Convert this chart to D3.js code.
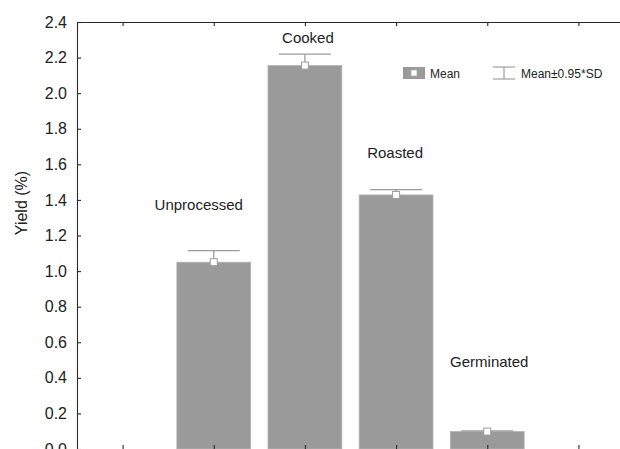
<!DOCTYPE html>
<html>
<head>
<meta charset="utf-8">
<script src="https://cdn.jsdelivr.net/npm/d3@7/dist/d3.min.js"></script>
<style>
  html, body { margin: 0; padding: 0; background: #fff; }
  svg { display: block; font-family: "Liberation Sans", Arial, sans-serif; }
</style>
</head>
<body>
<svg id="chart" width="620" height="449"></svg>
<script>
// Yield by processing method: mean bars with ±0.95*SD whiskers
const categories = ["Unprocessed", "Cooked", "Roasted", "Germinated"];
const means = [1.05, 2.155, 1.428, 0.098];
const halfSpread = [0.065, 0.064, 0.03, 0.004];
const yTicks = [0, 0.2, 0.4, 0.6, 0.8, 1.0, 1.2, 1.4, 1.6, 1.8, 2.0, 2.2, 2.4];
const slotCount = categories.length + 2; // one empty slot at each end
const legendLabels = ["Mean", "Mean\u00b10.95*SD"];

const svg = d3.select("#chart");
const plotLeft = 77, plotRight = 624, plotTop = 22, plotBottom = 449;

const x = d3.scaleLinear().domain([-0.5, slotCount - 0.5]).range([plotLeft, plotRight]);
const y = d3.scaleLinear().domain([0, 2.4]).range([plotBottom, plotTop]);
const slot = (plotRight - plotLeft) / slotCount;
const barW = slot * 0.81;
const capW = slot * 0.57;

const axisColor = "#2a2a2a";
const barColor = "#999a99";
const whiskerColor = "#9c9c9c";

// bars
svg.append("g").selectAll("rect").data(categories).join("rect")
  .attr("x", (d, i) => x(i + 1) - barW / 2)
  .attr("y", (d, i) => y(means[i]))
  .attr("width", barW)
  .attr("height", (d, i) => y(0) - y(means[i]))
  .attr("fill", barColor)
  .attr("stroke", "#b3b3b3")
  .attr("stroke-width", 0.8);

// whiskers
const wg = svg.append("g").attr("stroke", whiskerColor).attr("stroke-width", 1.3).attr("fill", "none");
categories.forEach((c, i) => {
  const cx = x(i + 1);
  const yt = y(means[i] + halfSpread[i]);
  wg.append("line").attr("x1", cx - capW / 2).attr("x2", cx + capW / 2).attr("y1", yt).attr("y2", yt);
  wg.append("line").attr("x1", cx).attr("x2", cx).attr("y1", yt).attr("y2", y(means[i]));
});

// mean markers
svg.append("g").selectAll("rect").data(categories).join("rect")
  .attr("x", (d, i) => x(i + 1) - 3.5)
  .attr("y", (d, i) => y(means[i]) - 3.5)
  .attr("width", 7).attr("height", 7)
  .attr("fill", "#fff")
  .attr("stroke", whiskerColor)
  .attr("stroke-width", 1);

// axes
const slots = d3.range(slotCount);
const topAxis = svg.append("g").attr("transform", `translate(0,${plotTop})`)
  .call(d3.axisBottom(x).tickValues(slots).tickFormat("").tickSizeInner(4).tickSizeOuter(0));
const bottomAxis = svg.append("g").attr("transform", `translate(0,${plotBottom})`)
  .call(d3.axisTop(x).tickValues(slots).tickFormat("").tickSizeInner(4).tickSizeOuter(0));
const leftAxis = svg.append("g").attr("transform", `translate(${plotLeft},0)`)
  .call(d3.axisLeft(y).tickValues(yTicks).tickFormat(d3.format(".1f"))
    .tickSizeInner(-4).tickSizeOuter(0).tickPadding(10));
[topAxis, bottomAxis, leftAxis].forEach(g => {
  g.selectAll("path, line").attr("stroke", axisColor).attr("stroke-width", 1.1);
});
leftAxis.selectAll("text").attr("font-size", 16).attr("fill", "#222")
  .attr("font-family", "Liberation Sans, Arial, sans-serif");

// axis title
svg.append("text")
  .attr("transform", `translate(27,203) rotate(-90)`)
  .attr("text-anchor", "middle")
  .attr("font-size", 16)
  .attr("fill", "#222")
  .text("Yield (%)");

// category annotations (data-space anchors)
const notes = [
  { i: 0, dx: -15, v: 1.343 },
  { i: 1, dx: 3, v: 2.282 },
  { i: 2, dx: -1, v: 1.636 },
  { i: 3, dx: 2, v: 0.461 }
];
svg.append("g").selectAll("text").data(notes).join("text")
  .attr("x", d => x(d.i + 1) + d.dx)
  .attr("y", d => y(d.v))
  .attr("text-anchor", "middle")
  .attr("font-size", 15)
  .attr("fill", "#222")
  .text(d => categories[d.i]);

// legend
const lg = svg.append("g");
lg.append("rect").attr("x", 403).attr("y", 67).attr("width", 22).attr("height", 12).attr("fill", barColor);
lg.append("rect").attr("x", 411).attr("y", 70).attr("width", 6).attr("height", 6)
  .attr("fill", "#fff").attr("stroke", "#b0b0b0").attr("stroke-width", 0.8);
lg.append("text").attr("x", 430).attr("y", 78).attr("font-size", 12).attr("fill", "#222").text(legendLabels[0]);
const eg = lg.append("g").attr("stroke", "#8c8c8c").attr("stroke-width", 1);
eg.append("line").attr("x1", 493).attr("x2", 515).attr("y1", 67).attr("y2", 67);
eg.append("line").attr("x1", 493).attr("x2", 515).attr("y1", 79).attr("y2", 79);
eg.append("line").attr("x1", 504).attr("x2", 504).attr("y1", 67).attr("y2", 79);
lg.append("text").attr("x", 521).attr("y", 78).attr("font-size", 12).attr("fill", "#222").text(legendLabels[1]);
</script>
</body>
</html>
